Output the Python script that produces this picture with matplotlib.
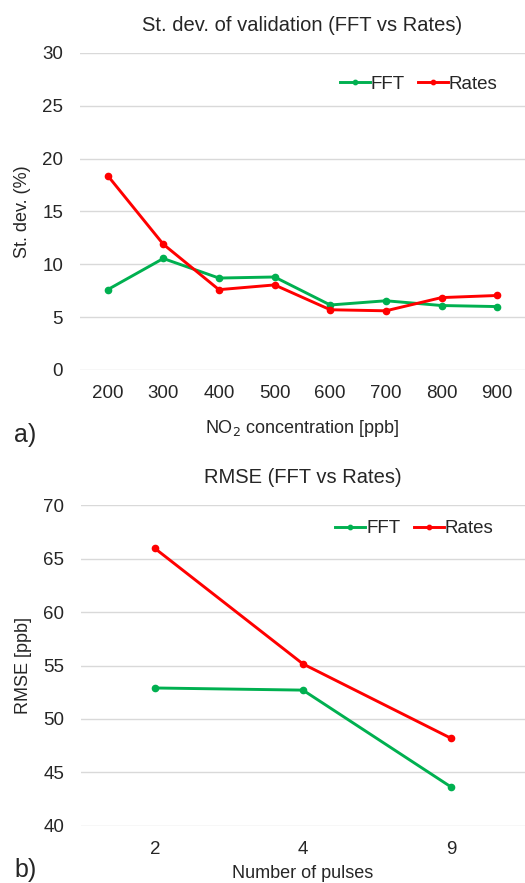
import matplotlib.pyplot as plt

plt.rcParams['font.family'] = ['Liberation Sans', 'DejaVu Sans']

# --- data ---
conc_labels = ["200", "300", "400", "500", "600", "700", "800", "900"]
std_fft = [7.6, 10.55, 8.7, 8.8, 6.15, 6.55, 6.1, 6.0]
std_rates = [18.4, 11.9, 7.6, 8.05, 5.7, 5.6, 6.85, 7.05]

pulse_labels = ["2", "4", "9"]
rmse_fft = [52.9, 52.7, 43.65]
rmse_rates = [65.95, 55.15, 48.2]

GREEN = "#00B050"
RED = "#FF0000"
GRID = "#D9D9D9"
TXT = "#262626"


def style_axes(ax, ymin, ymax, ystep, ncat):
    ax.set_ylim(ymin, ymax)
    ax.set_yticks(range(ymin, ymax + 1, ystep))
    ax.set_xlim(-0.5, ncat - 0.5)
    ax.grid(axis="y", color=GRID, linewidth=1.0)
    ax.set_axisbelow(True)
    for s in ax.spines.values():
        s.set_visible(False)
    ax.tick_params(axis="both", length=0, labelsize=13.5, colors=TXT, pad=11)
    ax.tick_params(axis="y", pad=12)


def draw(ax, labels, fft, rates, anchor):
    x = list(range(len(labels)))
    ax.plot(x, fft, color=GREEN, lw=2.1, marker="o", ms=4.5, label="FFT", zorder=3)
    ax.plot(x, rates, color=RED, lw=2.1, marker="o", ms=4.5, label="Rates", zorder=3)
    ax.set_xticks(x)
    ax.set_xticklabels(labels)
    leg = ax.legend(loc="center left", bbox_to_anchor=anchor, ncol=2, frameon=False,
                    fontsize=13.5, handlelength=1.6, handletextpad=0.05,
                    columnspacing=0.7, markerscale=0.7, borderpad=0, borderaxespad=0)
    for t in leg.get_texts():
        t.set_color(TXT)
    return leg


fig = plt.figure(figsize=(5.25, 8.83), dpi=100)

# a) standard deviation
ax1 = fig.add_axes([0.152, 0.581, 0.848, 0.359])
style_axes(ax1, 0, 30, 5, len(conc_labels))
draw(ax1, conc_labels, std_fft, std_rates, (0.584, 0.902))
ax1.set_title("St. dev. of validation (FFT vs Rates)", fontsize=14.5, color=TXT, pad=16)
ax1.set_ylabel("St. dev. (%)", fontsize=13, color=TXT, labelpad=8)
ax1.set_xlabel("NO$_2$ concentration [ppb]", fontsize=13, color=TXT, labelpad=11)
fig.text(0.027, 0.507, "a)", fontsize=18, color=TXT, va="center")

# b) RMSE
ax2 = fig.add_axes([0.154, 0.0646, 0.846, 0.3634])
style_axes(ax2, 40, 70, 5, len(pulse_labels))
draw(ax2, pulse_labels, rmse_fft, rmse_rates, (0.573, 0.927))
ax2.set_title("RMSE (FFT vs Rates)", fontsize=14.5, color=TXT, pad=16)
ax2.set_ylabel("RMSE [ppb]", fontsize=13, color=TXT, labelpad=8)
ax2.set_xlabel("Number of pulses", fontsize=13, color=TXT, labelpad=5)
fig.text(0.027, 0.0147, "b)", fontsize=18, color=TXT, va="center")

fig.savefig("out.png", dpi=100)
